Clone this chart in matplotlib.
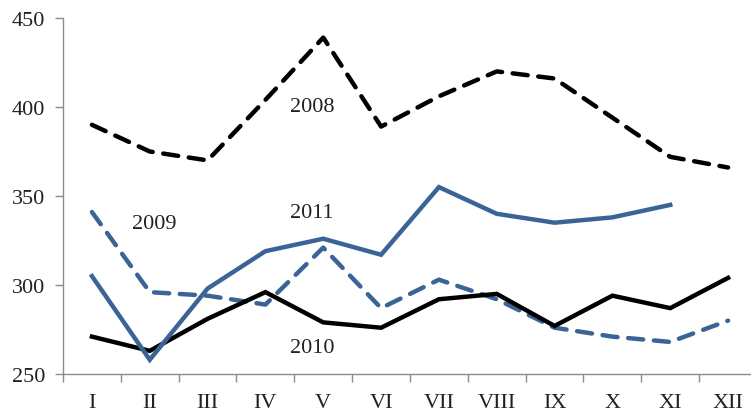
import matplotlib
matplotlib.use("Agg")
import matplotlib.pyplot as plt
import numpy as np

months = ["I", "II", "III", "IV", "V", "VI", "VII", "VIII", "IX", "X", "XI", "XII"]
s2008 = [390, 375, 370, 404, 439, 389, 406, 420, 416, 394, 372, 366]
s2009 = [341, 296, 294, 289, 321, 287, 303, 292, 276, 271, 268, 280]
s2010 = [271, 263, 281, 296, 279, 276, 292, 295, 277, 294, 287, 304]
s2011 = [305, 258, 298, 319, 326, 317, 355, 340, 335, 338, 345]
yticks = [250, 300, 350, 400, 450]

blue = "#3B6496"
fam = ["Liberation Serif", "DejaVu Serif"]
fs = 16

fig = plt.figure(figsize=(7.51, 4.14), dpi=100)
W, H = 751, 414
ax = fig.add_axes([63 / W, 1 - 375 / H, 694 / W, (375 - 19) / H])

x = np.arange(len(months))
lw = 3.2
ax.plot(x, s2008, color="black", lw=lw, dashes=(3.4, 2.4), dash_capstyle="round", solid_joinstyle="round")
ax.plot(x, s2009, color=blue, lw=lw, dashes=(3.4, 2.4), dash_capstyle="round")
ax.plot(x, s2010, color="black", lw=lw, solid_joinstyle="miter")
ax.plot(np.arange(len(s2011)), s2011, color=blue, lw=lw, solid_joinstyle="miter")

ax.set_xlim(-0.5, 11.5)
ax.set_ylim(250, 450)
ax.set_yticks(yticks)
ax.set_yticklabels([str(v) for v in yticks], fontfamily=fam, fontsize=fs, color="#222222")
ax.set_xticks(x)
ax.set_xticklabels(months, fontfamily=fam, fontsize=fs, color="#222222")
ax.set_xticks(np.arange(-0.5, 12, 1), minor=True)
ax.tick_params(axis="x", which="major", length=0, pad=14)
ax.tick_params(axis="x", which="minor", length=6, color="#8c8c8c", width=1)
ax.tick_params(axis="y", length=6, color="#8c8c8c", width=1, pad=7)

for s in ["top", "right"]:
    ax.spines[s].set_visible(False)
for s in ["left", "bottom"]:
    ax.spines[s].set_color("#8c8c8c")
    ax.spines[s].set_linewidth(1)

def lab(px, py, t):
    fig.text(px / W, 1 - py / H, t, ha="center", va="center", fontfamily=fam, fontsize=fs, color="#222222")

lab(312, 107, "2008")
lab(154, 225, "2009")
lab(312, 349, "2010")
lab(312, 214, "2011")

fig.savefig("out.png", dpi=100)
